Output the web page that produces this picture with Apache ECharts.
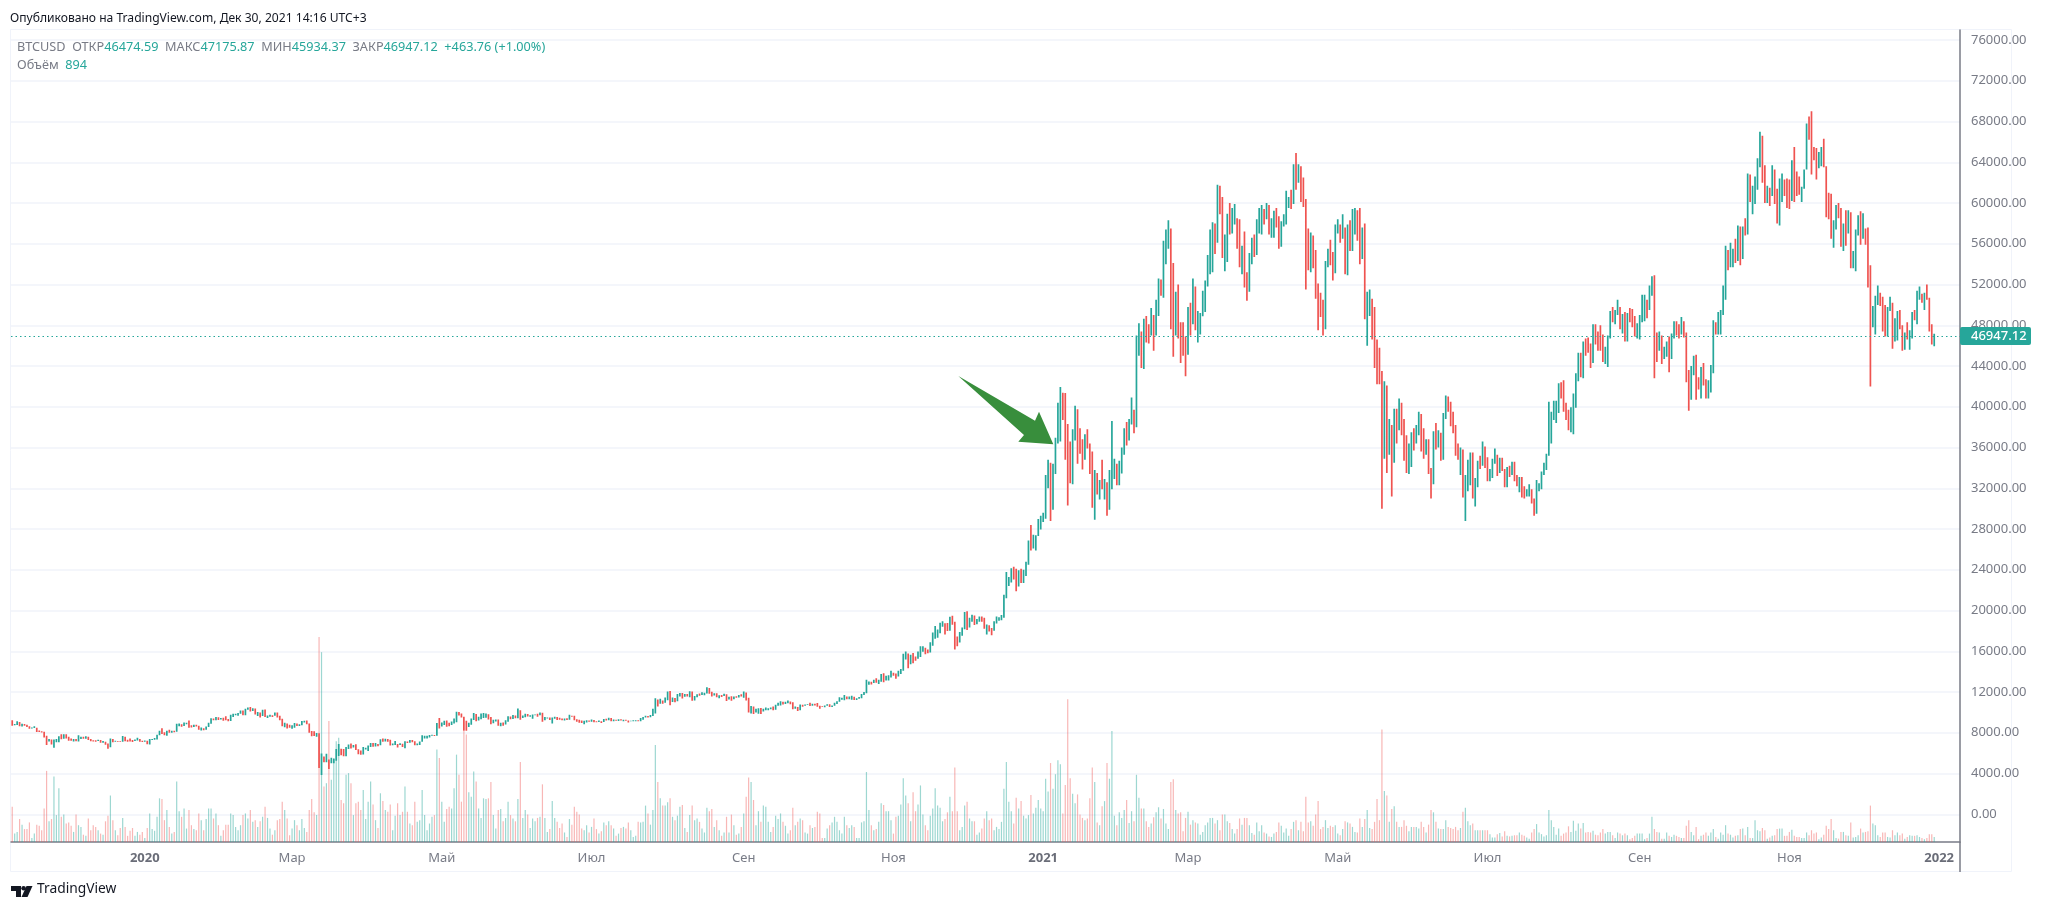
<!DOCTYPE html>
<html><head><meta charset="utf-8">
<style>html,body{margin:0;padding:0;background:#fff}#c{width:2048px;height:911px}</style>
<script src="https://cdn.jsdelivr.net/npm/echarts@6/dist/echarts.min.js"></script>
</head><body><div id="c"></div>
<script>
const startDate = Date.UTC(2019, 10, 8);
const slotCount = 794;
const firstOpen = 9230;
const closes = [
8790,8810,9040,8720,8810,8760,8630,8460,8490,8500,8170,8120,8080,7620,7280,7330,6900,7130,7160,7520,7430,7750,7560,
7400,7300,7300,7200,7400,7530,7500,7510,7340,7220,7200,7190,7250,7070,7110,6880,6610,7280,7150,7190,7150,7130,7500,7320,7250,7200,7190,7250,7300,7190,7170,
7200,6960,7340,7350,7350,7760,8150,8050,7820,8190,8020,8180,8110,8810,8820,8720,8900,8900,8700,8630,8730,8660,8400,8440,8340,8610,8900,9380,9300,9510,9350,
9380,9330,9290,9180,9610,9760,9800,9900,10160,9850,10270,10350,10240,10370,9900,9920,9700,10180,9600,9600,9690,9660,9960,9660,9310,8790,8810,8720,8530,
8530,8900,8760,8760,9070,9150,8900,8040,7930,7890,7950,4970,5600,5170,5360,5030,5330,5410,6190,6210,6190,5830,6490,6770,6690,6760,6380,6250,5880,6400,6420,
6640,6800,6740,6870,6770,7340,7200,7370,7300,6860,6880,6900,6850,6850,6630,7110,7040,7260,7130,6850,6850,7130,7490,7500,7540,7700,7790,7760,8780,8620,
8830,8970,8900,8880,9030,9160,9990,9810,9540,8720,8560,8810,9310,9790,9320,9380,9670,9730,9780,9510,9070,9170,9180,8720,8900,8840,9200,9580,9430,9700,9450,
10200,9520,9660,9790,9620,9670,9760,9780,9770,9890,9270,9470,9470,9330,9430,9520,9450,9380,9300,9360,9300,9680,9620,9290,9240,9160,9010,9110,9190,9140,
9230,9090,9060,9130,9070,9340,9250,9430,9230,9290,9230,9300,9240,9250,9200,9130,9150,9170,9210,9160,9390,9530,9610,9540,9700,9930,11030,10910,11110,11100,11350,
11810,11060,11240,11190,11750,11770,11600,11760,11680,11880,11400,11580,11780,11770,11860,11910,12300,11970,11730,11860,11520,11680,11650,11760,11330,11460,11330,11540,11470,11710,11650,
11920,11400,10170,10470,10170,10260,10370,10130,10230,10340,10390,10440,10330,10680,10790,10950,10940,10940,11080,10920,10420,10530,10240,10740,10690,10730,10770,10690,10840,10780,
10620,10570,10550,10670,10790,10600,10670,10920,11060,11300,11370,11540,11430,11430,11500,11330,11370,11510,11750,11920,12820,12980,12930,13130,13040,13070,13650,13280,13460,13560,13800,
13760,13550,14020,14140,15590,15590,14830,15480,15330,15310,15710,16290,16320,16070,15960,16730,17670,17800,17820,18680,18710,18420,18370,19160,18720,17150,17140,17730,18180,19700,
18790,19220,19450,18660,19150,19370,19180,18320,18540,18250,18040,18800,19170,19270,19440,21380,22840,23100,23860,23480,22730,23820,23240,23730,24690,26440,26280,27080,27360,28880,29000,
29370,32190,33000,31990,33980,36810,39500,40670,40240,38240,35550,34050,37370,39150,36800,36020,35800,36630,35900,35500,30850,33000,32090,32280,32260,32500,30430,33400,34300,34300,33110,
33530,35510,37670,36930,38290,39260,38870,46450,46500,44850,48000,47450,47190,48580,47920,49150,52150,51600,55900,55900,57490,54100,48900,49700,47000,46300,46100,45240,
49600,48440,50370,48370,48760,48880,50970,52380,54880,55850,57800,57230,61190,59000,55650,56900,58900,57650,58030,58100,57350,54100,54340,52300,51300,55000,55840,55780,57600,58780,58800,
58720,58980,57060,58200,59130,58050,56000,58100,58100,59800,60000,59990,63580,62980,63200,61400,60300,56250,55700,56470,53800,51700,51150,50050,49000,54000,55000,54840,53550,57700,
57800,56600,57200,53200,57500,56400,57350,58900,58280,55850,56700,49200,49700,49900,46800,46400,43500,42900,37000,40600,37300,37500,34700,38800,38300,39300,38500,35700,34600,35700,37300,
36700,37600,39200,36850,35520,35800,33560,33400,37390,36690,37340,35550,39020,40530,40150,38340,38090,35820,35480,35600,31680,32510,33680,34660,31590,32280,34700,34500,35900,35040,
33570,33800,34650,35290,33700,34230,33860,32880,33800,33510,34260,33090,32720,32820,31880,31380,31530,31780,30830,29790,32140,32300,33600,34270,35350,37300,39450,40010,40020,41630,41490,
39970,39180,38150,39720,40880,42830,44620,43800,46280,45600,45580,44420,47820,47100,47020,45930,44690,44740,46760,49320,48860,49300,49530,47700,48980,46850,49070,48900,48800,46990,47130,
48850,49280,50030,49940,51800,52660,46860,46070,46400,44850,45160,46060,44950,47100,48120,47760,47300,48300,47260,43000,40700,43570,44890,42840,42700,43200,42200,41030,41520,43820,
48150,47660,48230,49250,51500,55340,53800,53950,54960,54690,57480,56000,57370,57360,61680,60880,61530,62030,64280,66000,62200,60700,61300,60860,63080,60330,58460,60600,62250,61880,61300,
60950,63220,62940,61440,61000,61500,63300,67530,66950,64950,64800,64130,64400,65500,63600,60360,60100,56900,58100,59700,58700,56300,57500,57100,58950,53700,54700,57300,57800,56950,
57200,56500,53600,49200,49400,50600,50600,50500,47700,47150,49400,50100,46700,48400,48900,47650,46200,46850,46700,46900,49000,48600,50800,50800,50400,50800,50700,47550,46474.59,46947.12
];
const highs = [
9230,8860,9120,9070,8880,8860,8800,8640,8530,8650,8500,8230,8160,8110,7700,7400,7350,7340,7380,7650,7860,7860,7850,
7600,7430,7400,7400,7750,7620,7620,7650,7610,7400,7270,7270,7310,7280,7200,7130,6950,7440,7380,7220,7190,7180,7690,7620,7280,7440,7280,7350,7520,7380,7220,
7250,7220,7400,7390,7500,7800,8210,8450,8050,8200,8290,8190,8200,8880,8900,8850,9000,8990,9200,8740,8780,8790,8680,8520,8440,8620,8980,9420,9400,9560,9520,
9460,9480,9620,9350,9770,9860,9880,9950,10180,10190,10350,10480,10520,10400,10390,10050,9980,10250,10280,9690,9770,9720,9990,9990,9680,9370,8990,8900,8800,
8750,8960,8910,8840,9150,9180,9200,8900,8180,8150,7990,7960,5960,5670,5950,5370,5550,5450,6400,6900,6430,6400,6600,6850,6950,6800,6880,6350,6260,6600,6520,
6740,7000,7000,6990,6900,7360,7430,7420,7400,7310,6950,7190,6900,6980,6930,7180,7150,7300,7280,7170,6950,7150,7750,7700,7700,7790,7800,7780,8950,9450,
9000,9190,9200,8980,9100,9400,10070,10040,9900,9580,9170,8980,9390,9940,9840,9580,9890,9950,9900,9830,9560,9270,9300,9300,8980,9020,9220,9620,9600,9750,9700,
10380,10220,9690,9880,9850,9720,9800,9800,9880,9980,9960,9550,9490,9500,9500,9580,9560,9480,9400,9390,9420,9780,9680,9660,9320,9280,9210,9190,9230,9200,
9300,9260,9120,9200,9140,9360,9370,9480,9440,9310,9290,9340,9340,9270,9270,9210,9180,9220,9240,9230,9440,9560,9660,9650,9740,10370,11400,11260,11350,11170,11460,
12050,12100,11470,11420,11800,11900,11910,11810,11800,12070,12050,11620,11790,11850,11980,11930,12470,12400,12020,11890,11880,11690,11700,11820,11780,11530,11590,11550,11580,11720,11780,
12050,11950,11450,10620,10570,10350,10400,10440,10350,10480,10400,10470,10580,10750,10940,11100,11040,11040,11180,11050,10990,10580,10540,10780,10760,10770,10800,10950,10860,10850,
10920,10660,10600,10680,10800,10790,10690,10950,11100,11480,11440,11720,11560,11550,11630,11540,11400,11520,11800,12000,13200,13030,13020,13200,13350,13200,13780,13850,13600,13640,14100,
13900,13830,14080,14260,15750,15970,15770,15650,15840,15480,15970,16500,16490,16350,16170,16880,17850,18480,18150,18800,18960,18760,18770,19400,19480,18900,17450,17900,18330,19860,
19920,19300,19580,19520,19180,19420,19420,19290,18630,18560,18290,18950,19420,19350,19570,21550,23770,23300,24150,24290,24100,23950,24100,24000,24790,26870,28400,27450,27400,28990,29300,
29600,33300,34800,34500,34400,36950,40400,41950,41380,41350,38300,36600,37800,40100,39750,37900,36800,37300,37800,36400,35600,33800,33500,32800,34800,32900,32580,33800,38600,34900,34400,
34700,36000,37900,38500,38800,40900,39700,47000,48200,47400,48650,48900,48100,49700,49000,50500,52600,52500,56300,57400,58300,57500,54100,51300,52000,48300,48300,46900,
49800,50200,52600,51800,49400,49200,51400,52400,54900,57400,58100,58000,61800,61700,60600,56900,58950,60000,59500,59900,58500,58400,55800,57200,53200,55100,56600,56900,58400,59500,59800,
59400,60000,59800,58500,59250,59500,58700,58200,58900,61200,60600,61300,63800,64900,63800,63600,62500,60400,57500,57100,56800,55400,52100,51200,50500,54300,55500,56400,55200,57900,
58400,57900,58900,57600,57900,58300,59400,59500,59300,59500,57600,58000,51300,51500,50600,49800,46600,45800,43500,42500,42100,38800,38200,39800,39800,40800,40400,38800,37200,36400,37500,
37900,38200,39500,39300,37900,36800,36800,34000,37600,38400,37700,37450,39400,41100,41000,40500,39500,38200,36400,36000,35800,33300,34800,35500,35500,33000,34700,35200,36600,36100,
35000,33900,34900,35900,35300,35000,35000,33900,34100,34200,34600,34600,33300,33100,33100,32200,31900,32400,31900,31000,32800,32500,33650,34500,35400,40500,39500,40600,40600,42300,42400,
42600,40400,39700,39950,41300,43300,45300,45300,46400,46700,46800,46200,48100,48100,47400,48000,47100,45900,47000,49400,49800,49500,50500,49800,49100,49300,49200,49700,49600,48900,48200,
49000,51000,51000,50500,51900,52800,52900,47300,47400,47000,45900,46400,46900,47200,48400,48400,48100,48800,48400,47300,43600,44000,45000,45100,42900,43900,44300,42700,42600,44100,
48500,48300,49300,49500,51900,55800,55400,56100,55500,56500,57800,57700,57700,58500,62900,62800,61700,62600,64400,67000,66600,63700,61700,61500,63700,63300,61400,62400,62900,62300,62400,
62300,64200,65500,63100,62600,61600,63300,67800,68500,69000,65500,65400,65000,65500,66300,63500,61000,60900,58300,59800,60000,59500,58000,59300,59300,59100,55300,57400,58800,59200,
59000,57500,57600,53900,49900,50900,51900,51200,50800,50000,49800,50800,50200,48700,49400,49500,48000,47300,48300,47500,49300,49500,51400,51800,51100,51200,52000,50700,48100,47175.87
];
const lows = [
8700,8730,8770,8650,8610,8700,8580,8400,8420,8460,8080,8080,8020,7540,6800,7150,6850,6540,7070,7080,7370,7420,7450,
7220,7230,7150,7160,7150,7380,7410,7410,7280,7170,7150,7110,7220,7020,7010,6820,6430,6570,7070,7120,7120,7100,7130,7170,7130,7150,7090,7200,7260,7110,7090,
7120,6880,6860,7290,7320,7350,7750,7880,7750,7710,8000,8000,8050,8100,8630,8600,8660,8830,8500,8510,8580,8620,8300,8220,8260,8290,8580,8880,9230,9220,9250,
9300,9180,9230,9130,9150,9540,9720,9670,9860,9730,9710,10250,10090,10130,9800,9650,9500,9640,9550,9450,9580,9560,9660,9500,9240,8650,8550,8430,8500,
8400,8500,8660,8660,8730,9000,8850,8000,7650,7680,7600,4550,3850,5100,5100,4450,5000,5000,5250,5720,5800,5700,5700,6400,6450,6550,6300,5900,5850,5860,6350,
6200,6600,6640,6660,6680,6770,7110,7150,7110,6750,6770,6810,6560,6790,6600,6480,7000,7030,7060,6780,6780,6810,7120,7430,7440,7550,7700,7680,7720,8420,
8620,8760,8600,8650,8760,8910,9040,9700,9510,8200,8200,8630,8780,9260,9140,9210,9320,9450,9470,9300,8830,8930,9100,8690,8640,8700,8820,9080,9340,9350,9420,
9420,9290,9460,9530,9590,9570,9380,9710,9580,9730,9090,9240,9390,9250,8900,9370,9250,9280,9220,9200,9260,9280,9580,9220,9090,8990,8970,8850,9020,9090,
9080,9040,9040,9050,8960,9060,9210,9240,9130,9120,9180,9160,9200,9130,9170,9000,9120,9130,9130,9140,9140,9290,9490,9490,9530,9650,9900,10590,10840,10840,10960,
11200,10700,11010,11000,11090,11550,11360,11530,11570,11500,11150,11160,11500,11640,11700,11680,11850,11820,11570,11660,11500,11380,11520,11600,11120,11260,11150,11290,11440,11460,11570,
11430,11170,10000,9900,9850,10000,9880,9850,10100,10210,10220,10300,10220,10250,10650,10670,10780,10820,10900,10800,10310,10360,10150,10200,10560,10650,10720,10630,10650,10680,
10550,10370,10520,10500,10650,10530,10530,10650,10830,11050,11250,11200,11300,11280,11250,11220,11230,11350,11400,11700,11880,12720,12730,12880,12900,12800,13000,12950,13120,13130,13420,
13600,13300,13530,13760,14100,15200,14340,14730,14830,15080,15270,15450,15950,15720,15800,15880,16550,17220,17330,17760,18400,17650,18000,18020,18600,16180,16500,16870,17530,18170,
18100,18330,18900,18580,18650,18900,18900,18200,17650,17950,17570,18020,18720,19000,19050,19290,21200,22400,22750,23050,21900,22350,22700,22700,23400,24500,25900,26100,25900,27320,27950,
28700,29000,32000,28800,29900,33400,36400,36600,38700,34800,30300,32500,32400,36700,34400,35400,33850,34800,35900,33400,30100,28900,31400,30900,31900,30900,29300,29900,31900,32900,32300,
32300,33450,35300,36200,36700,38250,37400,38000,45000,43800,43700,46300,46200,47000,45500,47000,48900,50900,50700,54000,55500,47600,44900,47000,46700,44300,45000,43000,
45100,47000,48100,47500,46300,47100,48900,49300,51800,53000,53200,55000,56100,58900,54600,53300,54200,56900,57000,57900,55500,53700,53000,51700,50400,51300,54000,54700,54900,57000,56900,
57900,58400,56900,56600,56600,57600,55500,55700,57700,57900,59500,59400,59900,61300,62000,60100,59600,51500,53400,53200,53600,50600,47500,48800,47000,47600,53700,53900,52400,53100,
57000,56100,56500,53000,52900,55300,55300,56900,56300,54000,54500,48600,46000,48900,46600,43800,42200,42200,30000,34900,33500,35300,31200,34500,36400,37700,37200,34700,33500,33400,34100,
35700,36400,37200,35600,34900,35300,33400,31000,32400,35800,36000,34700,34800,38800,39500,38100,37400,35200,34800,33300,31100,28800,31700,32300,31000,30200,32100,33900,34200,34000,
32700,32700,33000,34400,33200,33500,33700,32100,32100,33100,33300,32700,32200,31600,31100,31000,31200,31200,30500,29300,29500,31700,31900,33300,33800,35200,36400,38700,38400,39400,40800,
39500,38700,37700,37500,37300,39900,42500,42900,42800,45000,45300,43800,44300,46100,45500,45500,44400,44200,43900,46700,48300,48100,49000,47600,47200,46400,46400,48300,47800,46900,46700,
46600,48300,48400,48700,49500,50900,42800,44400,45500,44200,44700,44900,43400,44700,46700,47000,46700,47100,46800,42400,39600,40700,43100,40700,41700,40800,42100,40800,40800,41400,
43300,47100,47100,47100,49000,50500,53400,53700,53700,54100,54300,53900,54500,56800,56900,60100,58900,59900,61300,63500,62000,60000,60000,59700,60700,59900,58000,57800,60100,60700,59500,
59400,60200,60100,60700,60800,60100,61400,63300,66200,62800,64200,62300,63400,63600,63500,58600,58400,56500,55600,57400,58500,55700,55300,55800,57000,53600,53600,53300,56800,55900,
56500,55900,51700,42000,47800,47100,50000,49900,47400,46900,46900,49500,45700,46400,46500,47600,45500,45600,46600,45600,46700,48500,48100,50500,50200,49500,50500,47400,46100,45934.37
];
const volumes = [
6300,1500,1800,4100,3100,2300,2300,3500,700,1500,
3100,2900,2100,6000,12700,3700,4100,11700,4800,9600,
4500,4900,3300,3500,2900,1800,4900,3000,2700,1300,
1100,4200,2100,3000,2700,2100,1500,1300,3700,4700,
8300,3900,2100,1200,2500,4300,2700,1100,2000,2500,
1100,1800,1300,1800,
700,2500,5100,2300,2000,4500,7800,7700,3900,5700,
2700,1500,1800,10800,5500,4500,6000,2400,5700,3000,
2300,2100,5100,3900,2100,4100,6000,6000,4200,5100,
3000,1100,2100,3100,3100,5100,4800,2700,2100,3000,
4800,5100,4200,5700,3600,3900,2700,3700,4500,6300,
4300,2400,1300,2100,3900,4100,7200,5700,4200,1200,
2400,3900,3000,2100,4100,2500,1800,5700,7700,5300,
4800,36600,33900,9900,10500,21600,11100,15000,18000,18600,
7500,6900,12000,12300,10500,4800,6900,7200,5700,9300,
4100,7200,10800,6700,3900,2500,8700,7300,5700,5400,
6700,2100,4700,6900,4800,5400,9900,5400,3300,3000,
7200,3600,3900,9300,4800,2100,3300,4500,4800,16500,
15000,7200,3600,5900,6300,6000,9600,15600,12000,7200,
19800,19200,8900,8100,12600,10800,6000,4300,7800,7700,
7800,10700,4800,2400,5700,5900,
3700,4300,7200,4800,4200,3700,7700,14300,4300,5700,
4900,2500,4200,3700,4300,4500,10300,4300,1800,2300,
7300,4300,3600,2500,3300,1700,900,4100,3100,6300,
5400,4900,2400,2100,3000,1700,2700,4200,2300,1500,
1900,3500,3000,3700,3000,2400,1100,1500,2500,2700,
2400,3500,2100,900,1100,3600,3500,3600,6500,5100,
3100,5700,17300,10700,7800,6500,6500,7100,7800,4500,
3900,4700,6300,6600,2500,1800,4800,6500,3900,4200,
3600,2400,1700,6100,5500,5900,2700,3900,2100,1100,
1700,4500,1700,4900,3000,1300,1500,2700,5100,8100,
11500,10700,7500,3000,5500,3600,6500,6300,3600,1800,
2700,4700,4100,5100,3600,2900,1500,2100,6100,3000,
3600,4200,3900,1700,1500,3000,2500,2700,5400,5100,
700,700,2400,3000,3500,4500,3600,2100,1500,4500,
3000,2500,3000,2700,700,700,3500,3700,12500,5700,
3000,2100,2300,3600,6900,6600,5500,5500,3900,1500,
4500,4700,6700,11400,8300,6900,3700,8900,5500,6700,
10100,4900,3000,2100,4700,6000,9600,6500,6100,3700,
4100,5300,8100,5500,13300,5500,2100,2700,6500,7200,
4200,3700,3700,1300,1700,2400,4200,5500,3900,4200,
2100,2700,2300,3600,
9500,14300,7200,5500,3300,7900,6000,7300,4700,4200,
4800,8400,5100,6100,7500,6000,5500,11300,9000,14100,
9500,12100,14600,13900,5100,10200,25500,11400,8600,6900,
8500,4900,4300,3900,4200,7800,13300,10700,3500,3000,
6400,7300,14100,11300,19800,4700,3000,5300,4300,5700,
7500,3400,5500,3700,12000,7900,6000,6000,3700,2700,
3300,4400,5300,6200,4200,5900,3300,2300,10700,11200,
5700,5100,5300,1900,4300,5400,3100,3900,3500,3300,
1300,1800,3000,3500,4300,4300,3300,3900,2100,4900,
4900,3700,3400,2300,1500,2300,4200,3100,4300,4300,
3000,1600,1300,3500,1900,3000,1700,1500,1000,900,
1500,1800,3500,
2900,1700,2400,1100,2300,3600,3900,2100,3600,1900,
8100,3500,3700,2900,4900,7300,2300,2700,3900,2500,
2900,2700,3000,1500,1200,2300,3700,3500,3300,2700,
1800,1700,4200,2700,4100,5700,2500,2300,3600,7700,
3900,20100,9100,8300,3600,5900,6400,3600,2700,2700,
3900,2900,1900,2700,2700,2700,2400,3600,2700,1700,
3100,5700,5300,3600,2400,2300,2300,3900,2700,2500,
2300,2700,2100,2500,5400,6100,3700,3000,3300,2100,
2100,2100,2100,2100,2100,1400,800,800,1400,1600,
1000,1900,1100,1000,1100,1200,1200,1700,
1300,1100,800,600,1700,2300,3200,1700,1400,1000,
1200,5700,3900,2700,1300,2400,1100,1500,1700,2800,
1800,3800,2000,3300,2400,3400,1700,1800,1700,2000,
1300,1200,1700,2300,1500,1800,1800,1200,700,1700,
1500,1200,1500,1200,500,700,1100,1500,1500,1500,
500,700,1500,4500,2300,1800,1700,600,600,1700,
1100,900,1300,1100,900,700,700,2900,3900,1800,
1200,2700,500,1100,1300,1700,1100,1700,2300,900,
600,1700,1300,3000,1500,1300,800,1100,1200,2300,
2400,1200,2700,700,700,3900,2100,1900,2500,2100,
600,800,1100,1200,2300,2400,2400,1100,1100,1800,
2200,1100,900,900,700,700,1700,1200,2100,1500,
1700,500,800,1300,2900,2300,4100,2100,700,600,
1800,1800,1200,1100,3500,800,900,1200,2400,1700,
1800,1900,6500,3300,3000,1200,900,1700,1700,900,
800,2100,1200,1700,1200,1500,600,900,1200,1100,
1100,1200,900,700,500,700,1400,1400,894
];
const tickLabels = {'2020-01-01':'2020','2020-03-01':'Мар','2020-05-01':'Май','2020-07-01':'Июл','2020-09-01':'Сен','2020-11-01':'Ноя','2021-01-01':'2021','2021-03-01':'Мар','2021-05-01':'Май','2021-07-01':'Июл','2021-09-01':'Сен','2021-11-01':'Ноя','2022-01-01':'2022'};
const priceTicks = [0,4000,8000,12000,16000,20000,24000,28000,32000,36000,40000,44000,48000,52000,56000,60000,64000,68000,72000,76000];
const lastPrice = 46947.12;
const legendLine = '{g|BTCUSD  ОТКР}{t|46474.59}{g|  МАКС}{t|47175.87}{g|  МИН}{t|45934.37}{g|  ЗАКР}{t|46947.12}{t|  +463.76 (+1.00%)}';

const UP='#26a69a', DOWN='#ef5350', UPV='rgba(38,166,154,0.45)', DOWNV='rgba(239,83,80,0.42)', GREY='#787b86', GRID='#f0f3fa';
const FONT='"Noto Sans", sans-serif';
const dates=[]; for(let i=0;i<slotCount;i++){dates.push(new Date(startDate+i*864e5).toISOString().slice(0,10));}
const candles=closes.map((c,i)=>{const o=i?closes[i-1]:firstOpen;return [o,c,Math.min(lows[i],o,c),Math.max(highs[i],o,c)];});
const volData=volumes.map((v,i)=>{const up=candles[i]&&candles[i][1]>=candles[i][0];return {value:v,itemStyle:{color:up?UPV:DOWNV}};});

const chart=echarts.init(document.getElementById('c'),null,{renderer:'canvas'});
chart.setOption({
 animation:false,backgroundColor:'#fff',
 textStyle:{fontFamily:FONT},
 grid:{left:11,right:88,top:30,bottom:69,containLabel:false},
 xAxis:{type:'category',data:dates,boundaryGap:true,
  axisLine:{onZero:false,lineStyle:{color:GREY,width:1.5}},axisTick:{show:false},splitLine:{show:false},
  axisLabel:{margin:10,color:GREY,fontSize:13,fontFamily:FONT,interval:(i,v)=>v in tickLabels,
   formatter:v=>{const t=tickLabels[v];if(!t)return '';return /^\d/.test(t)?'{y|'+t+'}':t;},
   rich:{y:{fontWeight:'bold',color:'#6a6d78',fontSize:13,fontFamily:FONT}}}},
 yAxis:[{type:'value',position:'right',min:-2720,max:76982,
   axisLine:{show:true,lineStyle:{color:GREY,width:1.5}},
   axisTick:{show:false,customValues:priceTicks},
   splitLine:{show:true,lineStyle:{color:GRID,width:1.5}},
   axisLabel:{customValues:priceTicks,color:GREY,fontSize:13,margin:11,fontFamily:FONT,formatter:v=>v.toFixed(2)}},
  {type:'value',min:0,max:145000,show:false,splitLine:{show:false}}],
 series:[
  {type:'bar',name:'Объём',yAxisIndex:1,data:volData,barWidth:1.2,z:1,silent:true},
  {type:'candlestick',name:'BTCUSD',data:candles,barWidth:0.6,z:3,silent:true,
   itemStyle:{color:UP,color0:DOWN,borderColor:UP,borderColor0:DOWN,borderWidth:1.7},
   markLine:{silent:true,symbol:'none',animation:false,
    lineStyle:{color:UP,type:[1.5,3],width:1.2},
    label:{position:'end',distance:0,formatter:()=>lastPrice.toFixed(2),color:'#fff',backgroundColor:UP,fontSize:13,fontWeight:500,fontFamily:FONT,padding:[2,10,2,11],borderRadius:2,width:50,height:14,lineHeight:14},
    data:[{yAxis:lastPrice}]}}
 ],
 graphic:[
  {type:'rect',z:-1,silent:true,shape:{x:10.5,y:29.5,width:2001,height:842},style:{fill:'none',stroke:GRID,lineWidth:1}},
  {type:'line',silent:true,shape:{x1:1960,y1:842,x2:1960,y2:872},style:{stroke:GREY,lineWidth:1.5}},
  {type:'text',left:10,top:13,style:{text:'Опубликовано на TradingView.com, Дек 30, 2021 14:16 UTC+3',fontFamily:FONT,fontSize:12.1,fill:'#131722'}},
  {type:'text',left:17,top:41,style:{text:legendLine,fontFamily:FONT,fontSize:12.7,rich:{g:{fill:GREY,fontFamily:FONT,fontSize:12.7},t:{fill:UP,fontFamily:FONT,fontSize:12.7}}}},
  {type:'text',left:17,top:59,style:{text:'{g|Объём  }{t|894}',fontFamily:FONT,fontSize:12.7,rich:{g:{fill:GREY,fontFamily:FONT,fontSize:12.7},t:{fill:UP,fontFamily:FONT,fontSize:12.7}}}},
  {type:'polygon',z:50,silent:true,shape:{points:[[958.3,376],[1035,420.7],[1039,411.7],[1053.3,444.3],[1018.3,441.7],[1024,435]]},style:{fill:'#388e3c'}},
  {type:'polygon',silent:true,shape:{points:[[11,886],[21,886],[21,897],[16,897],[16,891],[11,891]]},style:{fill:'#131722'}},
  {type:'circle',silent:true,shape:{cx:23.6,cy:888.3,r:2.3},style:{fill:'#131722'}},
  {type:'polygon',silent:true,shape:{points:[[26.5,886],[32.5,886],[27.5,897],[21.5,897]]},style:{fill:'#131722'}},
  {type:'text',left:37,top:882,style:{text:'TradingView',fontFamily:FONT,fontSize:13.8,fill:'#131722'}}
 ]
});
</script></body></html>
